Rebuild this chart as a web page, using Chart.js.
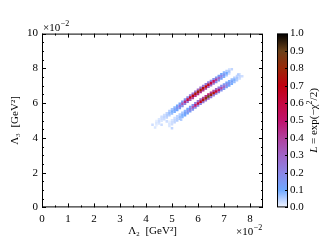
<!DOCTYPE html>
<html>
<head>
<meta charset="utf-8">
<script src="https://cdn.jsdelivr.net/npm/chart.js@4.4.1/dist/chart.umd.min.js"></script>
<style>
  html, body { margin: 0; padding: 0; background: #fff; }
  canvas { display: block; }
</style>
</head>
<body>
<canvas id="c" width="322" height="241"></canvas>
<script>
// axis ticks
const xTicks = [0, 1, 2, 3, 4, 5, 6, 7, 8];
const xMinor = [0.5, 1.5, 2.5, 3.5, 4.5, 5.5, 6.5, 7.5];
const yTicks = [0, 2, 4, 6, 8, 10];
const yMinor = [0.5, 1, 1.5, 2.5, 3, 3.5, 4.5, 5, 5.5, 6.5, 7, 7.5, 8.5, 9, 9.5];
const cbTicks = [0.0, 0.1, 0.2, 0.3, 0.4, 0.5, 0.6, 0.7, 0.8, 0.9, 1.0];

// band A (upper-left band), values in units of 1e-2 GeV^2
const bandAx = [4.4, 4.5, 4.6, 4.7, 4.8, 4.9, 5.0, 5.1, 5.2, 5.3, 5.4, 5.5, 5.6, 5.7, 5.8, 5.9, 6.0, 6.1, 6.2, 6.3, 6.4, 6.5, 6.6, 6.7, 6.8, 6.9, 7.0, 7.1, 7.2];
const bandAy = [4.85, 4.95, 5.10, 5.20, 5.30, 5.42, 5.52, 5.63, 5.73, 5.84, 5.96, 6.08, 6.20, 6.32, 6.42, 6.54, 6.65, 6.76, 6.86, 6.96, 7.06, 7.15, 7.25, 7.34, 7.44, 7.54, 7.64, 7.72, 7.82];
const bandAL = [0.02, 0.03, 0.03, 0.04, 0.05, 0.07, 0.09, 0.12, 0.16, 0.24, 0.34, 0.46, 0.58, 0.66, 0.70, 0.74, 0.78, 0.76, 0.74, 0.70, 0.66, 0.60, 0.52, 0.40, 0.30, 0.20, 0.15, 0.10, 0.06];
const bandAupY = [4.97, 5.07, 5.22, 5.32, 5.42, 5.54, 5.64, 5.75, 5.85, 5.96, 6.08, 6.20, 6.32, 6.44, 6.54, 6.66, 6.77, 6.88, 6.98, 7.08, 7.18, 7.27, 7.37, 7.46, 7.56, 7.66, 7.76, 7.84, 7.94];
const bandAupL = [0.01, 0.02, 0.03, 0.03, 0.04, 0.05, 0.06, 0.08, 0.10, 0.12, 0.14, 0.16, 0.20, 0.24, 0.26, 0.28, 0.30, 0.28, 0.26, 0.24, 0.22, 0.20, 0.18, 0.15, 0.13, 0.11, 0.08, 0.05, 0.03];
const bandAloY = [4.73, 4.83, 4.98, 5.08, 5.18, 5.30, 5.40, 5.51, 5.61, 5.72, 5.84, 5.96, 6.08, 6.20, 6.30, 6.42, 6.53, 6.64, 6.74, 6.84, 6.94, 7.03, 7.13, 7.22, 7.32, 7.42, 7.52, 7.60, 7.70];
const bandAloL = [0.01, 0.02, 0.02, 0.03, 0.04, 0.05, 0.07, 0.09, 0.11, 0.14, 0.18, 0.22, 0.28, 0.34, 0.40, 0.44, 0.46, 0.44, 0.42, 0.38, 0.34, 0.28, 0.24, 0.20, 0.16, 0.12, 0.09, 0.06, 0.03];

// band B (lower-right band)
const bandBx = [4.9, 5.0, 5.1, 5.2, 5.3, 5.4, 5.5, 5.6, 5.7, 5.8, 5.9, 6.0, 6.1, 6.2, 6.3, 6.4, 6.5, 6.6, 6.7, 6.8, 6.9, 7.0, 7.1, 7.2, 7.3, 7.4, 7.5, 7.6];
const bandBy = [4.80, 4.90, 5.02, 5.12, 5.22, 5.32, 5.43, 5.54, 5.65, 5.76, 5.87, 5.98, 6.08, 6.18, 6.28, 6.38, 6.48, 6.58, 6.67, 6.76, 6.86, 6.95, 7.05, 7.14, 7.24, 7.34, 7.44, 7.54];
const bandBL = [0.02, 0.03, 0.04, 0.05, 0.07, 0.09, 0.12, 0.16, 0.24, 0.34, 0.48, 0.60, 0.68, 0.74, 0.80, 0.90, 0.80, 0.72, 0.62, 0.50, 0.38, 0.28, 0.20, 0.15, 0.12, 0.09, 0.06, 0.04];
const bandBupY = [4.92, 5.02, 5.14, 5.24, 5.34, 5.44, 5.55, 5.66, 5.77, 5.88, 5.99, 6.10, 6.20, 6.30, 6.40, 6.50, 6.60, 6.70, 6.79, 6.88, 6.98, 7.07, 7.17, 7.26, 7.36, 7.46, 7.56, 7.66];
const bandBupL = [0.01, 0.02, 0.03, 0.04, 0.05, 0.06, 0.08, 0.10, 0.13, 0.17, 0.22, 0.28, 0.34, 0.40, 0.44, 0.48, 0.42, 0.36, 0.30, 0.24, 0.19, 0.15, 0.12, 0.09, 0.07, 0.05, 0.04, 0.02];
const bandBloY = [4.68, 4.78, 4.90, 5.00, 5.10, 5.20, 5.31, 5.42, 5.53, 5.64, 5.75, 5.86, 5.96, 6.06, 6.16, 6.26, 6.36, 6.46, 6.55, 6.64, 6.74, 6.83, 6.93, 7.02, 7.12, 7.22, 7.32, 7.42];
const bandBloL = [0.02, 0.03, 0.04, 0.05, 0.06, 0.08, 0.10, 0.12, 0.14, 0.16, 0.18, 0.20, 0.22, 0.24, 0.26, 0.30, 0.26, 0.24, 0.22, 0.20, 0.17, 0.15, 0.13, 0.11, 0.09, 0.07, 0.05, 0.03];

// loose faint cells at the tails
const speckX = [4.25, 4.35, 4.6, 4.8, 5.0, 5.35, 7.3, 7.55, 7.7];
const speckY = [4.75, 4.60, 4.75, 4.95, 4.55, 5.05, 7.95, 7.65, 7.55];
const speckL = [0.03, 0.02, 0.03, 0.03, 0.04, 0.05, 0.04, 0.05, 0.03];

// colour map for L
const cmapStops = [
  [0.00, '#f4f7ff'], [0.05, '#b4ceff'], [0.10, '#6ea8ff'], [0.20, '#8c86e6'],
  [0.30, '#a064c6'], [0.40, '#b0409c'], [0.50, '#c0126c'], [0.60, '#c40840'],
  [0.70, '#c00010'], [0.80, '#9a2808'], [0.90, '#6a4018'], [1.00, '#000000']
];

function hexRgb(h) {
  return [parseInt(h.slice(1, 3), 16), parseInt(h.slice(3, 5), 16), parseInt(h.slice(5, 7), 16)];
}
function lColor(v) {
  for (let i = 1; i < cmapStops.length; i++) {
    const [v1, c1] = cmapStops[i];
    if (v <= v1) {
      const [v0, c0] = cmapStops[i - 1];
      const t = (v - v0) / (v1 - v0);
      const a = hexRgb(c0), b = hexRgb(c1);
      return 'rgb(' + a.map((k, j) => Math.round(k + (b[j] - k) * t)).join(',') + ')';
    }
  }
  return cmapStops[cmapStops.length - 1][1];
}

// collect cells, low values first so the peaks are on top
const cells = [];
function addRow(xs, ys, ls) {
  xs.forEach((x, i) => cells.push({ x: x, y: ys[i], L: ls[i] }));
}
addRow(bandAx, bandAy, bandAL);
addRow(bandAx, bandAupY, bandAupL);
addRow(bandAx, bandAloY, bandAloL);
addRow(bandBx, bandBy, bandBL);
addRow(bandBx, bandBupY, bandBupL);
addRow(bandBx, bandBloY, bandBloL);
addRow(speckX, speckY, speckL);
cells.sort((a, b) => a.L - b.L);

const serif = '"Liberation Serif", "DejaVu Serif", serif';

function tickSet(list) {
  return scale => { scale.ticks = list.map(v => ({ value: v })); };
}

// frame, inward ticks, colour bar, exponent labels
const decor = {
  id: 'decor',
  afterDraw(chart) {
    const { ctx, chartArea: a, scales: { x, y, cb } } = chart;
    ctx.save();

    // colour bar
    const c0 = cb.left + 14, cw = 11;
    const grad = ctx.createLinearGradient(0, cb.getPixelForValue(0), 0, cb.getPixelForValue(1));
    cmapStops.forEach(([v, c]) => grad.addColorStop(v, c));
    ctx.fillStyle = grad;
    ctx.fillRect(c0, a.top, cw, a.bottom - a.top);
    ctx.strokeStyle = '#000';
    ctx.lineWidth = 1;
    ctx.strokeRect(c0 + 0.5, a.top + 0.5, cw - 1, a.bottom - a.top - 1);
    ctx.beginPath();
    cbTicks.forEach(v => {
      const py = Math.round(cb.getPixelForValue(v)) + 0.5;
      ctx.moveTo(c0 + cw, py);
      ctx.lineTo(c0 + cw - 3, py);
    });
    ctx.stroke();

    // plot frame
    ctx.strokeRect(a.left + 0.5, a.top + 0.5, a.width - 1, a.height - 1);

    ctx.beginPath();
    const xt = (list, len) => list.forEach(v => {
      const px = Math.round(x.getPixelForValue(v)) + 0.5;
      ctx.moveTo(px, a.bottom); ctx.lineTo(px, a.bottom - len);
      ctx.moveTo(px, a.top); ctx.lineTo(px, a.top + len);
    });
    const yt = (list, len) => list.forEach(v => {
      const py = Math.round(y.getPixelForValue(v)) + 0.5;
      ctx.moveTo(a.left, py); ctx.lineTo(a.left + len, py);
      ctx.moveTo(a.right, py); ctx.lineTo(a.right - len, py);
    });
    xt(xTicks, 4); xt(xMinor, 2);
    yt(yTicks, 4); yt(yMinor, 2);
    ctx.stroke();

    // x10^-2 labels
    ctx.fillStyle = '#000';
    ctx.textBaseline = 'alphabetic';
    const expo = (xl, yl) => {
      ctx.font = '11px ' + serif;
      ctx.textAlign = 'left';
      ctx.fillText('\u00d710', xl, yl);
      const w = ctx.measureText('\u00d710').width;
      ctx.font = '8px ' + serif;
      ctx.fillText('\u22122', xl + w + 0.5, yl - 5);
    };
    expo(a.left + 1, a.top - 3);
    expo(a.right - 27, 235);

    // colour bar title, read bottom to top
    ctx.translate(314, (a.top + a.bottom) / 2);
    ctx.rotate(-Math.PI / 2);
    const t1 = 'L';
    const t2 = ' = exp(\u2212\u03c7';
    const t3 = '/2)';
    ctx.font = 'italic 11px ' + serif; const w1 = ctx.measureText(t1).width;
    ctx.font = '11px ' + serif; const w2 = ctx.measureText(t2).width; const w3 = ctx.measureText(t3).width;
    ctx.font = '8px ' + serif; const wsup = ctx.measureText('2').width;
    let sx = -(w1 + w2 + wsup + w3) / 2;
    ctx.textBaseline = 'middle';
    ctx.font = 'italic 11px ' + serif; ctx.fillText(t1, sx, 0); sx += w1;
    ctx.font = '11px ' + serif; ctx.fillText(t2, sx, 0); sx += w2;
    ctx.font = '8px ' + serif; ctx.fillText('2', sx, -4); sx += wsup;
    ctx.font = '11px ' + serif; ctx.fillText(t3, sx, 0);

    ctx.restore();
  }
};

new Chart(document.getElementById('c'), {
  type: 'scatter',
  data: {
    datasets: [{
      data: cells,
      pointStyle: 'rect',
      pointRadius: 1.8,
      pointHoverRadius: 1.8,
      borderWidth: 0,
      backgroundColor: cells.map(c => lColor(c.L))
    }]
  },
  options: {
    responsive: false,
    animation: false,
    devicePixelRatio: 1,
    layout: { padding: { top: 14, left: 0, right: 0, bottom: 0 } },
    plugins: { legend: { display: false }, tooltip: { enabled: false } },
    scales: {
      x: {
        type: 'linear', min: 0, max: 8.5,
        afterBuildTicks: tickSet(xTicks),
        afterFit: s => { s.height = 28; },
        grid: { display: false, drawTicks: false },
        border: { display: false },
        ticks: { color: '#000', padding: 5, maxRotation: 0, font: { family: serif, size: 11 } },
        title: { display: true, text: '\u039b\u2082  [GeV\u00b2]', color: '#000', padding: { top: 0, bottom: -2 }, font: { family: serif, size: 11 } }
      },
      y: {
        type: 'linear', min: 0, max: 10,
        afterBuildTicks: tickSet(yTicks),
        afterFit: s => { s.width = 42; },
        grid: { display: false, drawTicks: false },
        border: { display: false },
        ticks: { color: '#000', padding: 4, font: { family: serif, size: 11 } },
        title: { display: true, text: '\u039b\u2083  [GeV\u00b2]', color: '#000', padding: { top: 9, bottom: 0 }, font: { family: serif, size: 11 } }
      },
      cb: {
        type: 'linear', position: 'right', min: 0, max: 1,
        afterBuildTicks: tickSet(cbTicks),
        afterFit: s => { s.width = 59; },
        grid: { display: false, drawTicks: false },
        border: { display: false },
        ticks: { color: '#000', padding: 27, font: { family: serif, size: 11 }, callback: v => v.toFixed(1) }
      }
    }
  },
  plugins: [decor]
});
</script>
</body>
</html>
